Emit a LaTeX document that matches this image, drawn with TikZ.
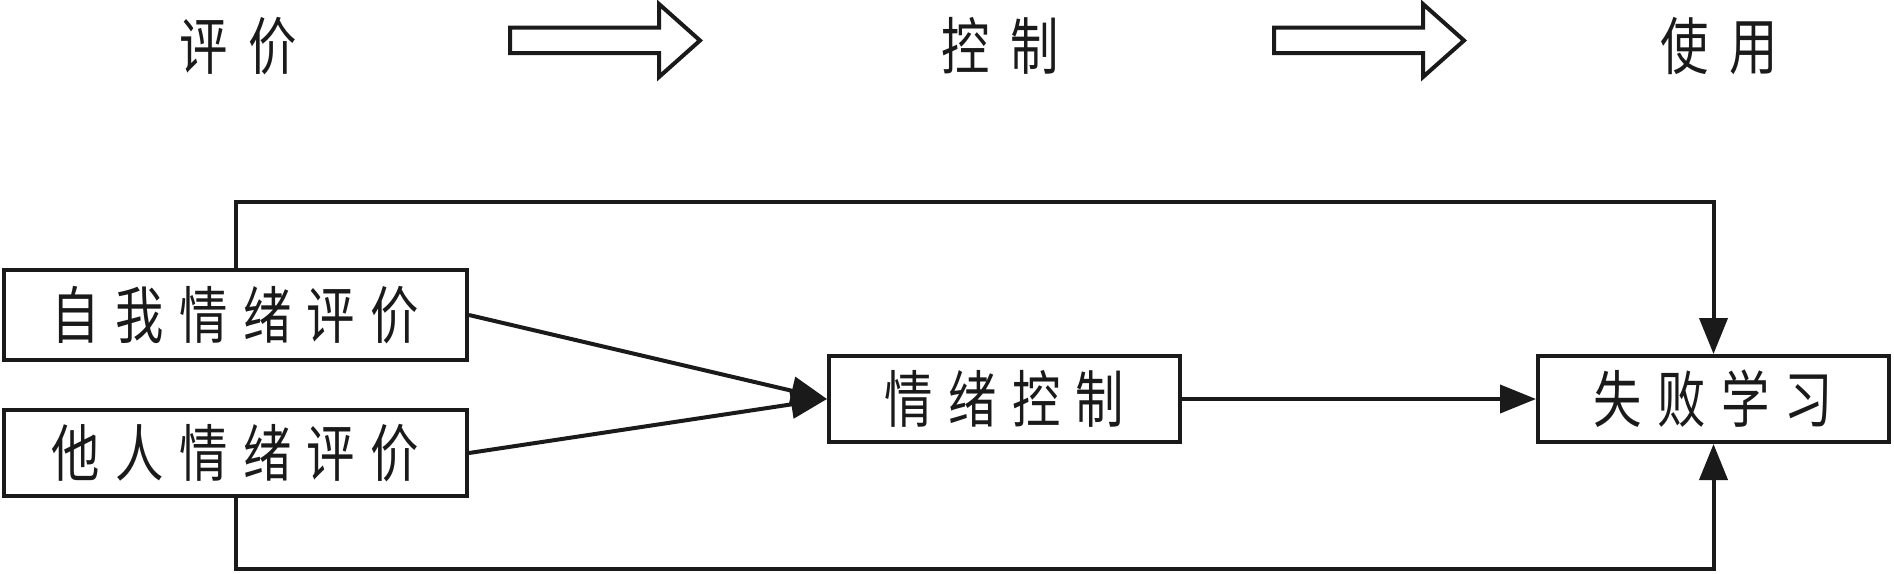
\documentclass[tikz,border=0pt]{standalone}
\usepackage{fontspec}
\newfontfamily\cjk[FakeStretch=0.78]{Noto Sans CJK SC}
\usetikzlibrary{arrows.meta}
\definecolor{ink}{HTML}{1A1A1A}
\newcommand\cjkgap{\hspace{15.4pt}}
\newcommand\cjkwide{\hspace{21pt}}
\begin{document}
\begin{tikzpicture}[x=1pt,y=-1pt,
  box/.style={draw=ink, line width=4pt, rectangle, inner sep=0pt, text=ink,
    font=\cjk\fontsize{62}{66}\selectfont},
  lbl/.style={inner sep=0pt, text=ink, font=\cjk\fontsize{62}{66}\selectfont},
  conn/.style={draw=ink, line width=4pt, -{Triangle[length=36pt,width=28pt]}},
  hollow/.style={draw=ink, line width=4pt, fill=white, line join=miter}]
\useasboundingbox (0,0) rectangle (1894,573);

% top row
\node[lbl] (t1) at (238,46) {评\cjkwide 价};
\node[lbl] (t2) at (1000,46) {控\cjkwide 制};
\node[lbl] (t3) at (1719,46) {使\cjkwide 用};
\draw[hollow] (510,27.5) -- (659,27.5) -- (659,4) -- (700,40.5) -- (659,77) -- (659,53) -- (510,53) -- cycle;
\draw[hollow] (1274,27.5) -- (1423,27.5) -- (1423,4) -- (1464,40.5) -- (1423,77) -- (1423,53) -- (1274,53) -- cycle;

% boxes
\node[box, minimum width=463pt, minimum height=90pt] (b1) at (235.5,315) {自\cjkgap 我\cjkgap 情\cjkgap 绪\cjkgap 评\cjkgap 价};
\node[box, minimum width=463pt, minimum height=86pt] (b2) at (235.5,453) {他\cjkgap 人\cjkgap 情\cjkgap 绪\cjkgap 评\cjkgap 价};
\node[box, minimum width=351pt, minimum height=86pt] (b3) at (1004.5,399) {情\cjkgap 绪\cjkgap 控\cjkgap 制};
\node[box, minimum width=351pt, minimum height=86pt] (b4) at (1713.5,399) {失\cjkgap 败\cjkgap 学\cjkgap 习};

\coordinate (ytop) at (0,202);
\coordinate (ybot) at (0,569);

% connectors
\draw[conn] (b1.east) -- (b3.west);
\draw[conn] (b2.east) -- (b3.west);
\draw[conn] (b3.east) -- (b4.west);
\draw[conn] (b1.north) |- (ytop -| b4.north) -- (b4.north);
\draw[conn] (b2.south) |- (ybot -| b4.south) -- (b4.south);
\end{tikzpicture}
\end{document}
